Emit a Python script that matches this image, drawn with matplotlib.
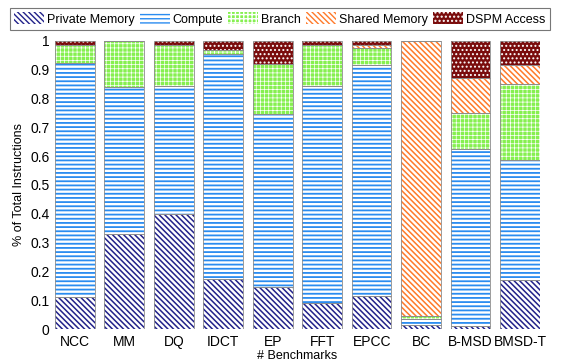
import matplotlib
matplotlib.use("Agg")
import matplotlib.pyplot as plt
import numpy as np
from matplotlib.patches import Patch

plt.rcParams['font.family'] = ['Liberation Sans', 'DejaVu Sans']

benchmarks = ['NCC', 'MM', 'DQ', 'IDCT', 'EP', 'FFT', 'EPCC', 'BC', 'B-MSD', 'BMSD-T']
private_mem = [0.11, 0.33, 0.40, 0.175, 0.145, 0.09, 0.115, 0.015, 0.01, 0.17]
compute = [0.815, 0.51, 0.445, 0.78, 0.60, 0.755, 0.80, 0.02, 0.615, 0.415]
branch = [0.06, 0.16, 0.14, 0.015, 0.175, 0.14, 0.06, 0.01, 0.125, 0.265]
shared_mem = [0.0, 0.0, 0.0, 0.0, 0.0, 0.0, 0.01, 0.955, 0.12, 0.065]
dspm = [0.015, 0.0, 0.015, 0.03, 0.08, 0.015, 0.015, 0.0, 0.13, 0.085]

# name, values, face, hatch colour, hatch, hatch linewidth
series = [
    ('Private Memory', private_mem, 'white', '#22228a', '\\' * 6, 1.1),
    ('Compute', compute, 'white', '#2a8cf0', '----', 1.3),
    ('Branch', branch, '#86f050', 'white', '++++', 0.5),
    ('Shared Memory', shared_mem, 'white', '#ff7a2a', '\\' * 6, 1.1),
    ('DSPM Access', dspm, '#7a0c0c', 'white', '....', 0.9),
]

fig = plt.figure(figsize=(5.85, 3.62), dpi=100)
ax = fig.add_axes([0.094, 0.091, 0.829, 0.796])

x = np.arange(len(benchmarks))
width = 0.8
bottom = np.zeros(len(benchmarks))
handles = []
for name, vals, face, hcol, hatch, hlw in series:
    vals = np.array(vals)
    with plt.rc_context({'hatch.linewidth': hlw}):
        bars = ax.bar(x, vals, width, bottom=bottom, color=face, edgecolor=hcol,
                      hatch=hatch, linewidth=0)
        handles.append(Patch(facecolor=face, edgecolor=hcol, hatch=hatch,
                             linewidth=0, label=name))
    for b in list(bars) + [handles[-1]]:
        if hasattr(b, 'set_hatch_linewidth'):
            b.set_hatch_linewidth(hlw)
    ax.bar(x, vals, width, bottom=bottom, fill=False, edgecolor='#8c8c8c',
           linewidth=0.6)
    bottom += vals

ax.set_xlim(-0.4, len(benchmarks) - 0.6)
ax.set_ylim(0, 1)
ax.set_xticks(x)
ax.set_xticklabels(benchmarks, fontsize=10)
ax.set_yticks(np.arange(0, 1.01, 0.1))
ax.set_yticklabels(['0', '0.1', '0.2', '0.3', '0.4', '0.5', '0.6', '0.7',
                    '0.8', '0.9', '1'], fontsize=10)
ax.tick_params(length=0, pad=4)
for s in ax.spines.values():
    s.set_visible(False)
ax.set_ylabel('% of Total Instructions', fontsize=9)
ax.set_xlabel('# Benchmarks', fontsize=9, labelpad=1)

leg = fig.legend(handles=handles, loc='upper center', ncol=5,
                 bbox_to_anchor=(0.478, 0.978), fontsize=9, frameon=True,
                 fancybox=False, edgecolor='#555555', handlelength=2.4,
                 handleheight=1.1, handletextpad=0.2, columnspacing=0.45,
                 borderpad=0.35, borderaxespad=0)
leg.get_frame().set_linewidth(0.8)

fig.savefig('out.png', dpi=100)
